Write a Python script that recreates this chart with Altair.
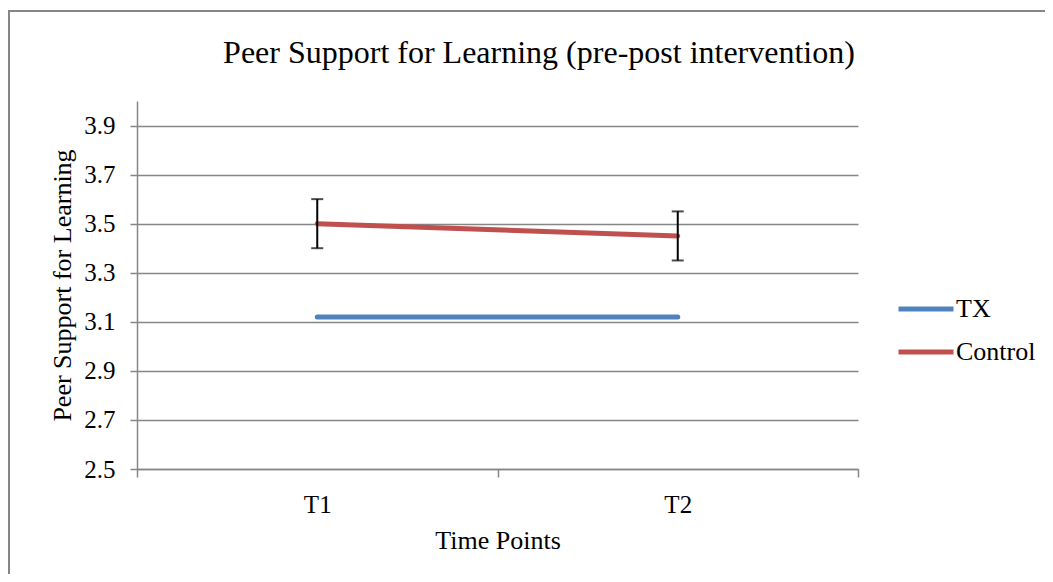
import altair as alt
import pandas as pd

# ---- data ----
time_points = ["T1", "T2"]
tx_values = [3.12, 3.12]
control_values = [3.50, 3.45]
control_low = [3.40, 3.35]
control_high = [3.60, 3.55]
series_names = ["TX", "Control"]
series_colors = ["#4F81BD", "#C0504D"]
y_ticks = [2.5, 2.7, 2.9, 3.1, 3.3, 3.5, 3.7, 3.9]
chart_title = ["Peer Support for Learning (pre-post intervention)"]

FONT = "Liberation Serif"
GRAY = "#868686"

lines_df = pd.DataFrame({
    "time": time_points * 2,
    "value": tx_values + control_values,
    "group": ["TX"] * len(time_points) + ["Control"] * len(time_points),
})
err_df = pd.DataFrame({
    "time": time_points,
    "lo": control_low,
    "hi": control_high,
})
frame_df = pd.DataFrame({"k": [0]})
title_df = pd.DataFrame({"t": chart_title})

x_enc = alt.X(
    "time:N",
    title="Time Points",
    sort=time_points,
    scale=alt.Scale(paddingInner=0, paddingOuter=0),
    axis=alt.Axis(
        labelAngle=0, tickBand="extent", tickSize=8, tickWidth=1.5,
        tickColor=GRAY, domainColor=GRAY, domainWidth=1.5,
        labelPadding=15, titlePadding=10, grid=False,
        labelFont=FONT, labelFontSize=25, labelColor="black",
        titleFont=FONT, titleFontSize=26, titleFontWeight="normal", titleColor="black",
    ),
)
y_scale = alt.Scale(domain=[2.5, 4.0], nice=False, zero=False)
y_axis = alt.Axis(
    values=y_ticks, format=".1f", tickSize=7, tickWidth=1.5, tickColor=GRAY,
    domainColor=GRAY, domainWidth=1.5, grid=True, gridColor=GRAY, gridWidth=1.5,
    labelPadding=15, titlePadding=8,
    labelFont=FONT, labelFontSize=25, labelColor="black",
    titleFont=FONT, titleFontSize=26, titleFontWeight="normal", titleColor="black",
)

frame = alt.Chart(frame_df).mark_rect(
    fill=None, stroke=GRAY, strokeWidth=2, clip=False
).encode(
    x=alt.value(-128), y=alt.value(-90), x2=alt.value(1200), y2=alt.value(700)
)

title = alt.Chart(title_df).mark_text(
    font=FONT, fontSize=32, color="black", align="center", baseline="alphabetic"
).encode(
    text="t:N", x=alt.value(402), y=alt.value(-38)
)

lines = alt.Chart(lines_df).mark_line(strokeWidth=5, strokeCap="round").encode(
    x=x_enc,
    y=alt.Y("value:Q", title="Peer Support for Learning", scale=y_scale, axis=y_axis),
    color=alt.Color(
        "group:N",
        scale=alt.Scale(domain=series_names, range=series_colors),
        sort=series_names,
        legend=alt.Legend(
            title=None, orient="none", legendX=759, legendY=178,
            symbolType="stroke", symbolSize=3025, symbolStrokeWidth=5,
            labelFont=FONT, labelFontSize=26, labelColor="black",
            labelOffset=0, rowPadding=0,
        ),
    ),
    detail="group:N",
)

err_rule = alt.Chart(err_df).mark_rule(color="black", strokeWidth=2).encode(
    x=alt.X("time:N", sort=time_points), y="lo:Q", y2="hi:Q"
)
cap_lo = alt.Chart(err_df).mark_tick(color="black", thickness=2, size=12, orient="horizontal").encode(
    x=alt.X("time:N", sort=time_points), y="lo:Q"
)
cap_hi = alt.Chart(err_df).mark_tick(color="black", thickness=2, size=12, orient="horizontal").encode(
    x=alt.X("time:N", sort=time_points), y="hi:Q"
)

chart = alt.layer(frame, title, lines, err_rule, cap_lo, cap_hi).properties(
    width=721,
    height=368,
    autosize=alt.AutoSizeParams(type="none"),
    padding={"left": 129, "top": 93, "right": 187, "bottom": 105},
).configure_view(stroke=None)

chart.save("out.html", embed_options={"renderer": "svg", "actions": False})
